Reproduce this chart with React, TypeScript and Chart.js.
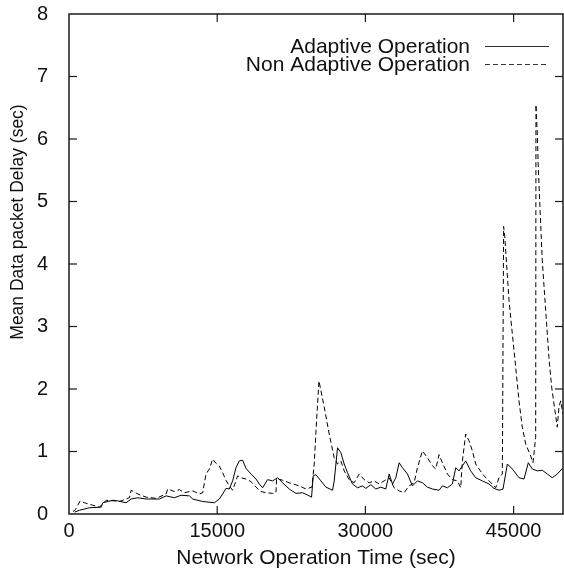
import React, { useEffect, useRef } from 'react';
import { Chart, registerables } from 'chart.js';

Chart.register(...registerables);

const X_TICKS = [0, 15000, 30000, 45000];
const Y_TICKS = [0, 1, 2, 3, 4, 5, 6, 7, 8];
const SERIES_LABELS = ['Adaptive Operation', 'Non Adaptive Operation'];
const X_TITLE = 'Network Operation Time (sec)';
const Y_TITLE = 'Mean Data packet Delay (sec)';

const adaptiveTime = [557, 1062, 2073, 3252, 3421, 4432, 4937, 5780, 6286, 6960, 7802, 9150, 9824, 10667, 11340, 12183, 12520, 13531, 14710, 15216, 15553, 15890, 16227, 16564, 16901, 17238, 17575, 17912, 18417, 18923, 19260, 19597, 20102, 20608, 21113, 21619, 22293, 22967, 23641, 24200, 24550, 24719, 24989, 25495, 26000, 26674, 26843, 27180, 27517, 27854, 28191, 28696, 29202, 29707, 30044, 30550, 31055, 31561, 32066, 32403, 32740, 33077, 33414, 33751, 34257, 34762, 35268, 35773, 36279, 36784, 37458, 37795, 38301, 38806, 39143, 39480, 39817, 40154, 40660, 41165, 41839, 42513, 43019, 43524, 43928, 44367, 44872, 45546, 46052, 46490, 46894, 47400, 47905, 48411, 48916, 49422, 50000];
const adaptiveDelay = [0.03, 0.06, 0.10, 0.11, 0.18, 0.22, 0.21, 0.18, 0.24, 0.26, 0.24, 0.24, 0.29, 0.26, 0.30, 0.29, 0.24, 0.20, 0.18, 0.24, 0.32, 0.41, 0.40, 0.53, 0.74, 0.85, 0.86, 0.73, 0.64, 0.56, 0.48, 0.42, 0.55, 0.53, 0.58, 0.50, 0.40, 0.33, 0.34, 0.30, 0.27, 0.61, 0.63, 0.53, 0.43, 0.38, 0.53, 1.06, 0.98, 0.80, 0.66, 0.48, 0.42, 0.45, 0.41, 0.47, 0.40, 0.43, 0.40, 0.64, 0.48, 0.58, 0.82, 0.74, 0.64, 0.45, 0.53, 0.50, 0.43, 0.40, 0.38, 0.45, 0.42, 0.48, 0.74, 0.69, 0.77, 0.85, 0.69, 0.58, 0.53, 0.48, 0.41, 0.38, 0.40, 0.80, 0.72, 0.58, 0.56, 0.82, 0.72, 0.69, 0.70, 0.64, 0.58, 0.64, 0.74];

const nonAdaptiveTime = [400, 658, 1129, 1568, 2410, 3084, 3758, 4601, 5106, 6117, 6286, 6960, 7802, 8813, 9824, 9993, 10667, 11172, 11678, 12520, 13194, 13531, 13868, 14205, 14542, 14879, 15216, 15553, 15890, 16227, 16564, 17070, 17407, 17912, 18417, 18923, 19429, 19934, 20608, 20945, 21012, 21619, 22293, 23304, 23978, 24585, 24820, 25056, 25300, 25832, 26337, 26843, 27180, 27517, 27854, 28359, 28865, 29370, 29876, 30381, 30887, 31392, 31898, 32403, 32909, 33414, 33920, 34425, 34931, 35268, 35773, 36279, 36784, 37121, 37458, 37795, 38301, 38806, 39311, 39648, 39817, 40154, 40491, 40828, 41165, 41502, 42008, 42513, 43187, 43524, 43861, 43990, 44100, 44535, 44868, 45212, 45546, 45880, 46223, 46729, 46962, 47235, 47264, 47396, 47497, 47638, 47901, 48245, 48579, 48852, 49186, 49418, 49590, 49762, 50000];
const nonAdaptiveDelay = [0.04, 0.07, 0.21, 0.18, 0.14, 0.11, 0.22, 0.21, 0.20, 0.26, 0.38, 0.32, 0.27, 0.25, 0.32, 0.40, 0.36, 0.39, 0.34, 0.37, 0.32, 0.34, 0.64, 0.72, 0.88, 0.81, 0.77, 0.66, 0.54, 0.45, 0.38, 0.61, 0.58, 0.56, 0.52, 0.43, 0.36, 0.34, 0.33, 0.34, 0.57, 0.54, 0.50, 0.45, 0.40, 0.43, 0.80, 1.49, 2.13, 1.71, 1.28, 0.90, 0.80, 0.85, 0.69, 0.55, 0.50, 0.64, 0.55, 0.50, 0.53, 0.48, 0.53, 0.58, 0.42, 0.37, 0.34, 0.45, 0.50, 0.74, 1.01, 0.90, 0.77, 0.72, 0.95, 0.82, 0.64, 0.55, 0.53, 0.42, 0.85, 1.28, 1.17, 1.01, 0.80, 0.72, 0.61, 0.53, 0.42, 0.58, 0.64, 4.60, 4.45, 3.42, 2.89, 2.35, 1.81, 1.39, 1.12, 0.93, 0.82, 1.22, 6.55, 6.10, 5.55, 5.02, 4.06, 3.26, 2.50, 2.03, 1.65, 1.39, 1.71, 1.81, 1.60];

const FONT = "'Liberation Sans', Arial, Helvetica, sans-serif";
const INK = '#111111';

const toPoints = (xs: number[], ys: number[]) => xs.map((x, i) => ({ x, y: ys[i] }));

const framePlugin = {
  id: 'gnuFrame',
  afterDraw(chart: any) {
    const { ctx, chartArea: a, scales } = chart;
    const tl = 8;
    ctx.save();
    ctx.strokeStyle = '#1a1a1a';
    ctx.lineWidth = 1.5;
    ctx.setLineDash([]);
    ctx.strokeRect(a.left, a.top, a.right - a.left, a.bottom - a.top);
    ctx.lineWidth = 1.2;
    const seg = (x1: number, y1: number, x2: number, y2: number) => {
      ctx.beginPath();
      ctx.moveTo(x1, y1);
      ctx.lineTo(x2, y2);
      ctx.stroke();
    };
    X_TICKS.forEach((v) => {
      if (v === 0) return;
      const px = scales.x.getPixelForValue(v);
      seg(px, a.bottom, px, a.bottom - tl);
      seg(px, a.top, px, a.top + tl);
    });
    Y_TICKS.forEach((v) => {
      if (v === 0 || v === 8) return;
      const py = scales.y.getPixelForValue(v);
      seg(a.left, py, a.left + tl, py);
      seg(a.right, py, a.right - tl, py);
    });

    // y axis title (gnuplot places it above the axis centre)
    ctx.save();
    ctx.translate(18.5, a.top + 208);
    ctx.rotate(-Math.PI / 2);
    ctx.font = `17.5px ${FONT}`;
    ctx.fillStyle = INK;
    ctx.textAlign = 'center';
    ctx.textBaseline = 'middle';
    ctx.fillText(Y_TITLE, 0, 0);
    ctx.restore();

    // legend (gnuplot style: text right-aligned, sample to the right)
    const textRight = a.left + 401;
    const sampleL = a.left + 416;
    const sampleR = a.left + 480;
    const rows = [a.top + 32, a.top + 50];
    ctx.font = `21px ${FONT}`;
    ctx.fillStyle = INK;
    ctx.textAlign = 'right';
    ctx.textBaseline = 'middle';
    chart.data.datasets.forEach((ds: any, i: number) => {
      const y = rows[i];
      ctx.fillText(ds.label, textRight, y + 1);
      ctx.strokeStyle = '#333';
      ctx.lineWidth = 1;
      ctx.setLineDash(ds.borderDash || []);
      seg(sampleL, y + 0.5, sampleR, y + 0.5);
      ctx.setLineDash([]);
    });
    ctx.restore();
  },
};

export default function App() {
  const ref = useRef<HTMLCanvasElement | null>(null);

  useEffect(() => {
    if (!ref.current) return;
    const chart = new Chart(ref.current, {
      type: 'line',
      data: {
        datasets: [
          {
            label: SERIES_LABELS[0],
            data: toPoints(adaptiveTime, adaptiveDelay),
            borderColor: '#000000',
            borderWidth: 1,
            pointRadius: 0,
            tension: 0,
            fill: false,
          },
          {
            label: SERIES_LABELS[1],
            data: toPoints(nonAdaptiveTime, nonAdaptiveDelay),
            borderColor: '#000000',
            borderWidth: 1,
            borderDash: [5, 3],
            pointRadius: 0,
            tension: 0,
            fill: false,
          },
        ],
      },
      options: {
        animation: false,
        responsive: false,
        events: [],
        layout: { padding: { top: 14, right: 1, left: 0, bottom: 0 } },
        plugins: {
          legend: { display: false },
          tooltip: { enabled: false },
        },
        scales: {
          x: {
            type: 'linear',
            min: 0,
            max: 50000,
            afterBuildTicks: (s: any) => {
              s.ticks = X_TICKS.map((value) => ({ value }));
            },
            afterFit: (s: any) => {
              s.height = 59;
              s.paddingLeft = 0;
              s.paddingRight = 0;
            },
            grid: { display: false, drawTicks: false },
            border: { display: false },
            ticks: {
              autoSkip: false,
              maxRotation: 0,
              padding: 5,
              color: INK,
              font: { family: FONT, size: 20 },
              callback: (v: any) => String(v),
            },
            title: {
              display: true,
              text: X_TITLE,
              color: INK,
              font: { family: FONT, size: 21 },
              padding: { top: 0, bottom: 2 },
            },
          },
          y: {
            type: 'linear',
            min: 0,
            max: 8,
            afterBuildTicks: (s: any) => {
              s.ticks = Y_TICKS.map((value) => ({ value }));
            },
            afterFit: (s: any) => {
              s.width = 69;
              s.paddingTop = 0;
              s.paddingBottom = 0;
            },
            grid: { display: false, drawTicks: false },
            border: { display: false },
            ticks: {
              padding: 21,
              color: INK,
              font: { family: FONT, size: 20 },
              callback: (v: any) => String(v),
            },
            title: { display: false, text: Y_TITLE },
          },
        },
      },
      plugins: [framePlugin],
    });
    return () => chart.destroy();
  }, []);

  return (
    <div style={{ position: 'absolute', left: 0, top: 0, width: 564, height: 573, background: '#fff' }}>
      <canvas ref={ref} width={564} height={573} style={{ display: 'block', width: 564, height: 573 }} />
    </div>
  );
}
